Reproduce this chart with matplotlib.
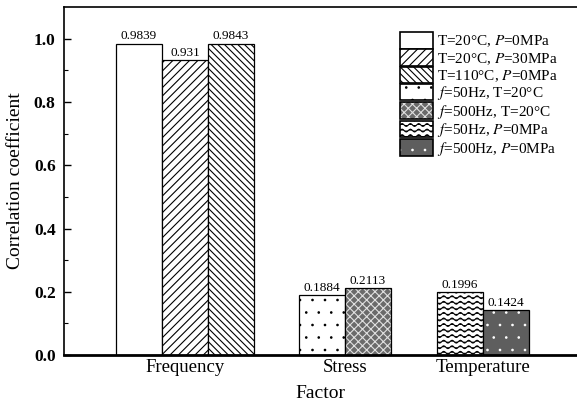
import warnings
import numpy as np
import matplotlib
matplotlib.use('Agg')
import matplotlib.pyplot as plt
import matplotlib.hatch as mhatch
from matplotlib.path import Path
from matplotlib.patches import Patch
from matplotlib.legend_handler import HandlerTuple

warnings.filterwarnings('ignore')

plt.rcParams['font.family'] = 'Liberation Serif'
plt.rcParams['mathtext.fontset'] = 'stix'
plt.rcParams['hatch.linewidth'] = 0.8


# wavy hatch, one row of waves per '~' and density step
class WaveHatch(mhatch.HatchPatternBase):
    def __init__(self, hatch, density):
        self.num_lines = int(hatch.count('~') * density)
        self.npts = 97
        self.num_vertices = self.num_lines * self.npts

    def set_vertices_and_codes(self, vertices, codes):
        t = np.linspace(0, 1, self.npts)
        for i in range(self.num_lines):
            y0 = (i + 0.5) / self.num_lines
            s = slice(i * self.npts, (i + 1) * self.npts)
            vertices[s, 0] = t
            vertices[s, 1] = y0 + 0.014 * np.sin(2 * np.pi * 12 * t)
            codes[s] = Path.LINETO
            codes[i * self.npts] = Path.MOVETO


# small stipple dots, ':' is a bit denser than '.' (row count must stay even)
class TinyDots(mhatch.Circles):
    size = 0.06
    filled = True

    def __init__(self, hatch, density):
        self.num_rows = hatch.count(':') * (density + 2)
        super().__init__(hatch, density)


mhatch._hatch_types.append(WaveHatch)
mhatch._hatch_types.append(TinyDots)

# data
factors = ['Frequency', 'Stress', 'Temperature']
factor_pos = [0, 1, 1.8625]
series = ['T=20°C, $\\mathit{P}$=0MPa',
          'T=20°C, $\\mathit{P}$=30MPa',
          'T=110°C, $\\mathit{P}$=0MPa',
          '$\\mathit{f}$=50Hz, T=20°C',
          '$\\mathit{f}$=500Hz, T=20°C',
          '$\\mathit{f}$=50Hz, $\\mathit{P}$=0MPa',
          '$\\mathit{f}$=500Hz, $\\mathit{P}$=0MPa']
series_factor = [0, 0, 0, 1, 1, 2, 2]
values = [0.9839, 0.931, 0.9843, 0.1884, 0.2113, 0.1996, 0.1424]
value_text = ['0.9839', '0.931', '0.9843', '0.1884', '0.2113', '0.1996', '0.1424']

# fill, hatch, hatch colour
styles = [
    ('white', None, 'black'),
    ('white', '////', 'black'),
    ('white', '\\\\\\\\\\', 'black'),
    ('white', ':', 'black'),
    ('#6a6a6a', 'xxxx', '#e0e0e0'),
    ('white', '~~~', 'black'),
    ('#5e5e5e', ':', 'white'),
]

width = 0.2875

fig, ax = plt.subplots(figsize=(5.77, 4.11), dpi=100)
fig.subplots_adjust(left=0.111, right=1.0, bottom=0.136, top=0.983)

handles = []
for k in range(len(values)):
    f = series_factor[k]
    members = [j for j in range(len(values)) if series_factor[j] == f]
    idx = members.index(k)
    x = factor_pos[f] + (idx - (len(members) - 1) / 2) * width
    fc, hatch, hc = styles[k]
    ax.bar(x, values[k], width, color=fc, edgecolor=hc, hatch=hatch, linewidth=0)
    ax.bar(x, values[k], width, fill=False, edgecolor='black', linewidth=0.9)
    ax.text(x, values[k] + 0.004, value_text[k], ha='center', va='bottom', fontsize=9.5)
    handles.append((Patch(facecolor=fc, edgecolor=hc, hatch=hatch, linewidth=0),
                    Patch(fill=False, edgecolor='black', linewidth=1.2)))

ax.set_xlim(-0.756, 2.45)
ax.set_ylim(0, 1.1)
ax.set_xticks(factor_pos)
ax.set_xticklabels(factors, fontsize=13.5)
ax.tick_params(axis='x', length=0, pad=3)
ax.set_yticks(np.arange(0, 1.01, 0.2))
ax.set_yticklabels(['%.1f' % v for v in np.arange(0, 1.01, 0.2)], fontsize=12.5, fontweight='bold')
ax.set_yticks(np.arange(0.1, 1.1, 0.2), minor=True)
ax.tick_params(axis='y', direction='in', length=5, width=1, pad=6)
ax.tick_params(axis='y', which='minor', direction='in', length=3, width=0.8)
ax.set_xlabel('Factor', fontsize=14, labelpad=6)
ax.set_ylabel('Correlation coefficient', fontsize=14, labelpad=7)
ax.spines['right'].set_visible(False)
ax.spines['bottom'].set_linewidth(2)
ax.spines['left'].set_linewidth(1.2)
ax.spines['top'].set_linewidth(1.2)

ax.legend(handles, series, handler_map={tuple: HandlerTuple(ndivide=1, pad=0)},
          loc='upper left', bbox_to_anchor=(0.654, 0.928), frameon=False,
          fontsize=11, handlelength=2.2, handleheight=1.3, labelspacing=0.0,
          handletextpad=0.25, borderaxespad=0, borderpad=0)

plt.savefig('out.png', dpi=100)
